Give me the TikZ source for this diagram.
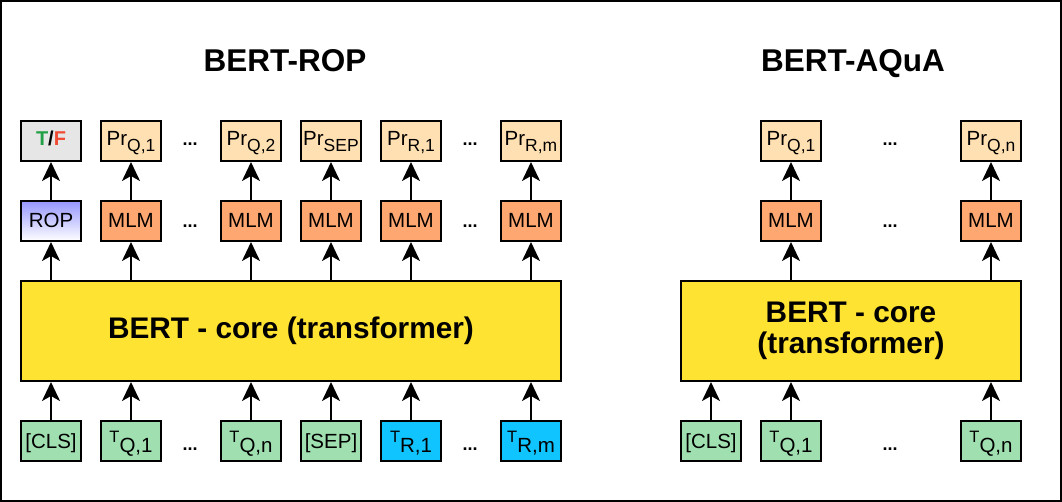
\documentclass[tikz,border=0pt]{standalone}
\usepackage{fontspec}
\setmainfont{Liberation Sans}
\usepackage{xcolor}
\usetikzlibrary{arrows.meta}
\definecolor{truegreen}{RGB}{35,160,70}
\definecolor{falsered}{RGB}{240,75,50}
\definecolor{tfgray}{RGB}{230,230,230}
\definecolor{prfill}{RGB}{255,224,178}
\definecolor{mlmfill}{RGB}{255,167,112}
\definecolor{ropblue}{RGB}{150,150,255}
\definecolor{coreyellow}{RGB}{255,227,50}
\definecolor{tokgreen}{RGB}{160,224,176}
\definecolor{tokblue}{RGB}{16,196,255}
\newcommand{\lowidx}[1]{\raisebox{-6pt}{\fontsize{17.5}{19}\selectfont #1}}
\newcommand{\tokidx}[1]{{\fontsize{16.5}{18}\selectfont T}\raisebox{-10pt}{#1}}

\begin{document}
\begin{tikzpicture}[
  x=1pt, y=-1pt,
  font=\fontsize{20.5}{23}\selectfont,
  box/.style={draw=black, line width=2pt, minimum width=60pt, minimum height=40pt, inner sep=0pt, text height=14pt, text depth=0pt},
  prbox/.style={box, fill=prfill, text height=14pt, text depth=4pt},
  mlm/.style={box, fill=mlmfill},
  cls/.style={box, fill=tokgreen},
  tok/.style={box, fill=tokgreen, text height=14pt, text depth=12pt},
  tokb/.style={tok, fill=tokblue},
  core/.style={draw=black, line width=2pt, fill=coreyellow, inner sep=0pt, minimum height=100pt, align=center, font=\fontsize{29.8}{31}\selectfont\bfseries},
  up/.style={line width=2pt, -{Stealth[length=19pt, width=18pt, inset=5pt]}},
  dots/.style={anchor=base, font=\fontsize{18}{20}\selectfont\bfseries},
  title/.style={anchor=base, font=\fontsize{31.5}{33}\selectfont\bfseries}
]
  \useasboundingbox (0,0) rectangle (1062,502);
  \draw[line width=2pt] (1,1) rectangle (1061,501);

  % BERT-ROP
  \node[title] (roptitle) at (285,72) {BERT-ROP};
  \node[core, minimum width=540pt] (ropcore) at (291,331) {BERT - core (transformer)};
  \node[prbox, fill=tfgray, font=\fontsize{20}{22}\selectfont\bfseries] (p1) at (51,141)
    {\textcolor{truegreen}{T}/\textcolor{falsered}{F}};
  \node[box, top color=ropblue, bottom color=white] (m1) at (51,221) {ROP};
  \foreach \n/\x/\pr in {2/131/{Q,1}, 3/251/{Q,2}, 4/331/{SEP}, 5/411/{R,1}, 6/531/{R,m}} {
    \node[prbox] (p\n) at (\x,141) {Pr\lowidx{\pr}};
    \node[mlm] (m\n) at (\x,221) {MLM};
  }
  \foreach \n/\x/\kind/\txt in {1/51/cls/{[CLS]}, 2/131/tok/{\tokidx{Q,1}}, 3/251/tok/{\tokidx{Q,n}},
      4/331/cls/{[SEP]}, 5/411/tokb/{\tokidx{R,1}}, 6/531/tokb/{\tokidx{R,m}}} {
    \node[\kind] (t\n) at (\x,441) {\txt};
  }
  \foreach \n in {1,...,6} {
    \draw[up] (m\n) -- (p\n);
    \draw[up] (ropcore.north -| m\n) -- (m\n);
    \draw[up] (t\n) -- (t\n |- ropcore.south);
  }
  \foreach \x in {190,470} {
    \node[dots] at (\x,146) {...};
    \node[dots] at (\x,228) {...};
    \node[dots] at (\x,450) {...};
  }

  % BERT-AQuA
  \node[title] (aqtitle) at (853,72) {BERT-AQuA};
  \node[core, minimum width=340pt] (aqcore) at (851,331) {BERT - core\\(transformer)};
  \foreach \n/\x/\pr in {1/791/{Q,1}, 2/991/{Q,n}} {
    \node[prbox] (aqp\n) at (\x,141) {Pr\lowidx{\pr}};
    \node[mlm] (aqm\n) at (\x,221) {MLM};
    \node[tok] (aqt\n) at (\x,441) {\tokidx{\pr}};
    \draw[up] (aqm\n) -- (aqp\n);
    \draw[up] (aqcore.north -| aqm\n) -- (aqm\n);
    \draw[up] (aqt\n) -- (aqt\n |- aqcore.south);
  }
  \node[cls] (aqcls) at (711,441) {[CLS]};
  \draw[up] (aqcls) -- (aqcls |- aqcore.south);
  \node[dots] at (890,146) {...};
  \node[dots] at (890,228) {...};
  \node[dots] at (890,450) {...};
\end{tikzpicture}
\end{document}
